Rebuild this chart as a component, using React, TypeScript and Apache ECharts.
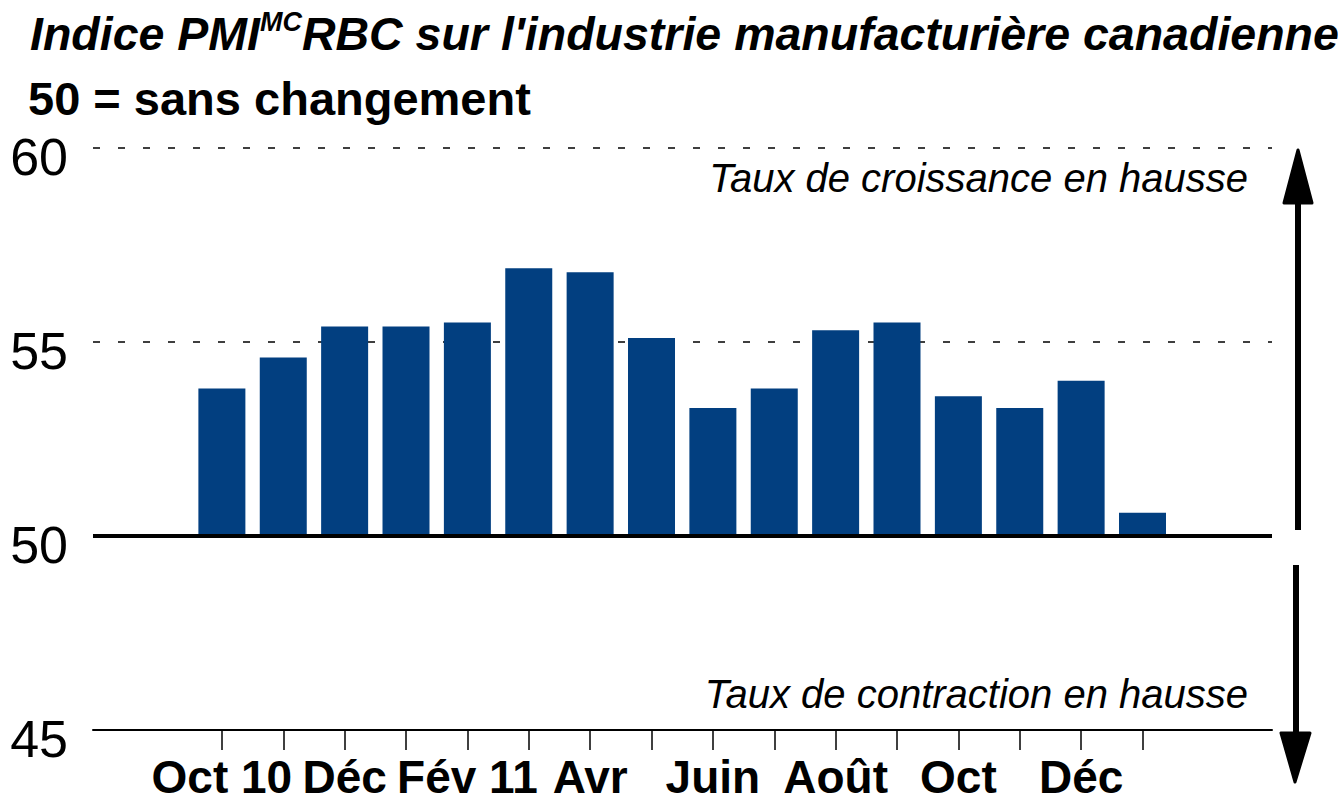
import React, { useEffect, useRef } from "react";
import * as echarts from "echarts";

const tickLabels = ["Oct 10", "", "Déc", "", "Fév 11", "", "Avr", "", "Juin", "", "Août", "", "Oct", "", "Déc", ""];
const pmiValues = [53.8, 54.6, 55.4, 55.4, 55.5, 56.9, 56.8, 55.1, 53.3, 53.8, 55.3, 55.5, 53.6, 53.3, 54.0, 50.6];
const baseline = 50;
const yTicks = [45, 50, 55, 60];
const titleParts = ["Indice PMI", "MC", "RBC sur l'industrie manufacturière canadienne"];
const subtitle = "50 = sans changement";
const upperNote = "Taux de croissance en hausse";
const lowerNote = "Taux de contraction en hausse";

const FONT = "'Liberation Sans', Arial, Helvetica, sans-serif";
const BAR_COLOR = "#023F80";

export default function App() {
  const ref = useRef<HTMLDivElement>(null);
  useEffect(() => {
    document.body.style.margin = "0";
    if (!ref.current) return;
    const chart = echarts.init(ref.current, undefined, { renderer: "svg" });
    const idx = pmiValues.map((_, i) => i);
    const labelIdx = idx.filter((i) => tickLabels[i] !== "");
    const option: any = {
      animation: false,
      backgroundColor: "#ffffff",
      textStyle: { fontFamily: FONT },
      grid: { left: 93, right: 66, top: 148, bottom: 70, containLabel: false, outerBoundsMode: "none" },
      xAxis: {
        type: "value",
        min: -2.1,
        max: 17.11,
        splitLine: { show: false },
        axisLine: { show: true, onZero: false, lineStyle: { color: "#000", width: 2 } },
        axisTick: { show: true, customValues: idx, length: 20, lineStyle: { color: "#000", width: 1.5 } },
        axisLabel: {
          show: true,
          customValues: labelIdx,
          formatter: (v: number) => tickLabels[Math.round(v)] || "",
          fontFamily: FONT,
          fontWeight: "bold",
          fontSize: 46,
          color: "#000",
          margin: 27,
          lineHeight: 40,
        },
      },
      yAxis: {
        type: "value",
        min: yTicks[0] - baseline,
        max: yTicks[yTicks.length - 1] - baseline,
        interval: 5,
        axisLine: { show: false },
        axisTick: { show: false },
        axisLabel: {
          formatter: (v: number) => String(v + baseline),
          fontFamily: FONT,
          fontSize: 52,
          color: "#000",
          margin: 25,
          verticalAlign: "top",
          lineHeight: 18,
        },
        splitLine: { show: true, lineStyle: { color: "#000", width: 1.5, type: [7, 18] } },
      },
      series: [
        {
          type: "bar",
          barWidth: 47,
          itemStyle: { color: BAR_COLOR },
          data: pmiValues.map((v, i) => [i, +(v - baseline).toFixed(2)]),
          markLine: {
            silent: true,
            symbol: "none",
            label: { show: false },
            lineStyle: { color: "#000", width: 4, type: "solid" },
            data: [{ yAxis: 0 }],
          },
        },
      ],
      graphic: [
        {
          type: "text",
          left: 30,
          top: 8,
          style: {
            text: `{a|${titleParts[0]}}{b|${titleParts[1]}}{a|${titleParts[2]}}`,
            rich: {
              a: { fontFamily: FONT, fontSize: 46.5, fontWeight: "bold", fontStyle: "italic", fill: "#000", lineHeight: 52 },
              b: { fontFamily: FONT, fontSize: 27, fontWeight: "bold", fontStyle: "italic", fill: "#000", verticalAlign: "top", lineHeight: 52, padding: [0, 0, 22, 0] },
            },
          },
        },
        {
          type: "text",
          left: 28,
          top: 75,
          style: { text: subtitle, fontFamily: FONT, fontSize: 47, fontWeight: "bold", fill: "#000" },
        },
        {
          type: "text",
          right: 90,
          top: 158,
          style: { text: upperNote, fontFamily: FONT, fontSize: 40, fontStyle: "italic", fill: "#000" },
        },
        {
          type: "text",
          right: 90,
          top: 674,
          style: { text: lowerNote, fontFamily: FONT, fontSize: 40, fontStyle: "italic", fill: "#000" },
        },
        { type: "line", shape: { x1: 1298, y1: 195, x2: 1298, y2: 530 }, style: { stroke: "#000", lineWidth: 6 } },
        { type: "polygon", shape: { points: [[1298, 150], [1284, 203], [1312, 203]] }, style: { fill: "#000", stroke: "#000", lineWidth: 3, lineJoin: "round" } },
        { type: "line", shape: { x1: 1296, y1: 565, x2: 1296, y2: 740 }, style: { stroke: "#000", lineWidth: 6 } },
        { type: "polygon", shape: { points: [[1281, 733], [1310, 733], [1295, 782]] }, style: { fill: "#000", stroke: "#000", lineWidth: 3, lineJoin: "round" } },
      ],
    };
    chart.setOption(option);
    return () => chart.dispose();
  }, []);
  return <div ref={ref} style={{ width: 1338, height: 800 }} />;
}
